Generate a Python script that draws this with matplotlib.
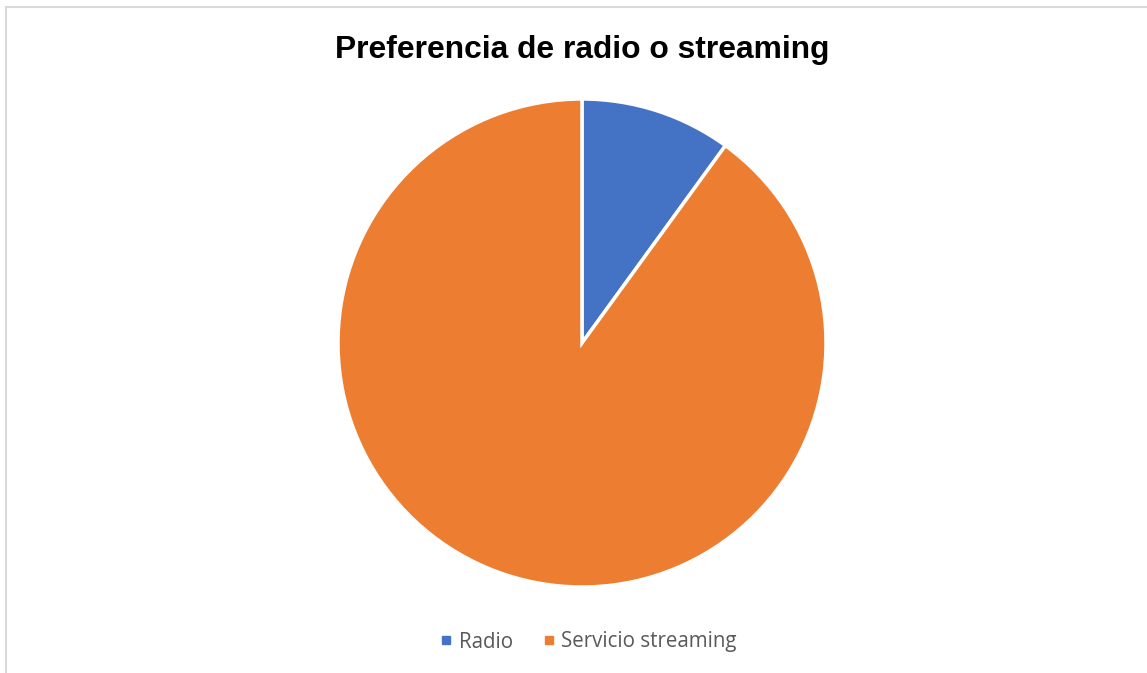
import matplotlib.pyplot as plt
from matplotlib.patches import Rectangle
from matplotlib.lines import Line2D

labels = ['Radio', 'Servicio streaming']
values = [10, 90]
colors = ['#4472C4', '#ED7D31']

fig = plt.figure(figsize=(11.47, 6.73), dpi=100)

# chart frame (cut off on right/bottom like the original)
fig.patches.append(Rectangle((6 / 1147, -0.1), 1.2, (673 - 7) / 673 + 0.1,
                             transform=fig.transFigure, fill=False,
                             edgecolor='#D9D9D9', linewidth=1.5))

ax = fig.add_axes([338 / 1147, 86 / 673, 488 / 1147, 488 / 673])
ax.pie(values, colors=colors, startangle=90, counterclock=False, radius=1,
       wedgeprops=dict(edgecolor='white', linewidth=2.5))
ax.set_xlim(-1, 1)
ax.set_ylim(-1, 1)
ax.set_aspect('equal')
ax.axis('off')

fig.text(582 / 1147, 1 - 50 / 673, 'Preferencia de radio o streaming',
         ha='center', va='center', fontsize=22.9, fontweight='bold',
         family='Liberation Sans', color='black')

handles = [Line2D([], [], marker='s', linestyle='none', markersize=6,
                  markerfacecolor=c, markeredgecolor=c) for c in colors]
fig.legend(handles, labels, loc='center', bbox_to_anchor=(587 / 1147, 1 - 642 / 673),
           ncol=2, frameon=False, handletextpad=0.15, columnspacing=1.3,
           prop={'family': 'Open Sans', 'size': 14.8}, labelcolor='#595959',
           handlelength=0.9)

fig.savefig('out.png', dpi=100)
